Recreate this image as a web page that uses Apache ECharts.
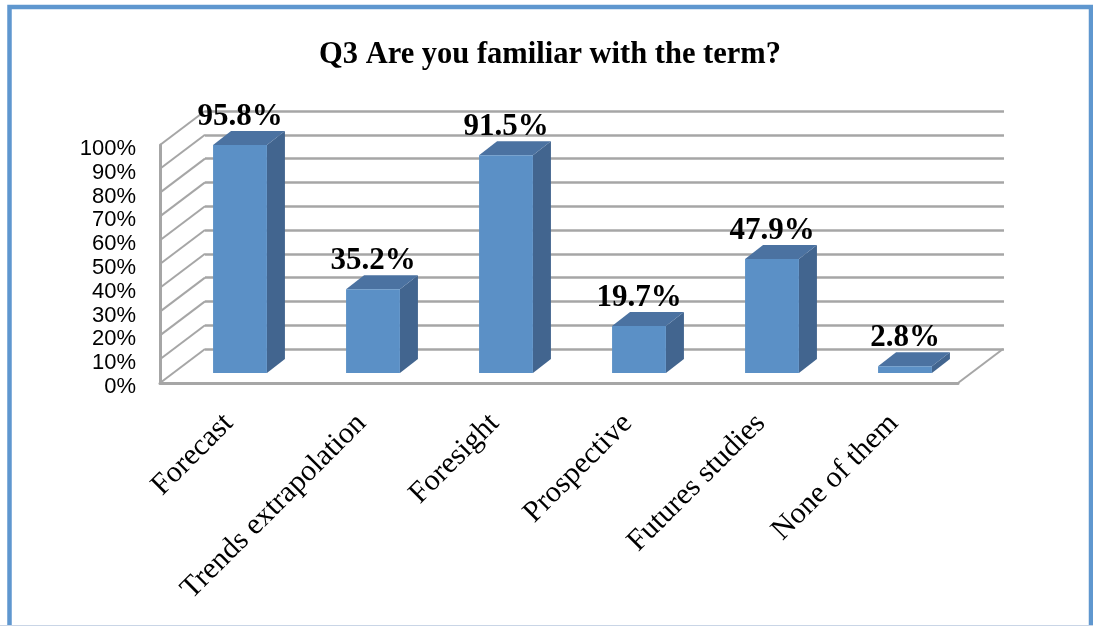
<!DOCTYPE html>
<html><head><meta charset="utf-8">
<style>html,body{margin:0;padding:0;background:#fff}#c{width:1093px;height:626px}</style>
<script src="https://cdn.jsdelivr.net/npm/echarts@6/dist/echarts.min.js"></script>
</head><body><div id="c"></div>
<script>
const categories = ['Forecast','Trends extrapolation','Foresight','Prospective','Futures studies','None of them'];
const values = [95.8,35.2,91.5,19.7,47.9,2.8];
const yTicks = [0,10,20,30,40,50,60,70,80,90,100];
const titleText = 'Q3 Are you familiar with the term?';

const DX = 45, DY = -34;           // wall depth of the 3D box
const BAR_DX = 18, BAR_DY = -14;   // depth of each bar
const SHIFT_X = 13.5, SHIFT_Y = -10; // bar placement on the floor
const GRID = '#a6a6a6';

const chart = echarts.init(document.getElementById('c'), null, {renderer:'canvas'});
chart.setOption({
  animation:false,
  backgroundColor:'#fff',
  title:{text:titleText,left:545,top:35,textAlign:'center',
    textStyle:{fontFamily:'Liberation Serif',fontWeight:'bold',fontSize:30.5,color:'#000'}},
  graphic:[
    {type:'rect',shape:{x:9.5,y:7,width:1081.5,height:630},style:{fill:'none',stroke:'#5f97cf',lineWidth:4.5},z:100},
    {type:'rect',shape:{x:0,y:625,width:1093,height:1},style:{fill:'#c9d5e6'},z:101}
  ],
  grid:[
    {left:160,right:135,top:145,bottom:243},
    {left:205,right:89,top:111,bottom:277}
  ],
  xAxis:[
    {type:'category',gridIndex:0,data:categories,
      axisTick:{show:false},
      axisLine:{lineStyle:{color:GRID,width:3}},
      axisLabel:{interval:0,rotate:45,margin:38,hideOverlap:false,padding:[0,-3,0,0],
        fontFamily:'Liberation Serif',fontSize:30,color:'#000'}},
    {type:'value',gridIndex:1,show:false,min:0,max:1}
  ],
  yAxis:[
    {type:'value',gridIndex:0,min:0,max:100,interval:10,
      axisLine:{show:true,lineStyle:{color:GRID,width:3}},
      axisTick:{show:false},splitLine:{show:false},
      axisLabel:{formatter:'{value}%',margin:24,verticalAlign:'top',lineHeight:8,
        fontFamily:'Liberation Sans',fontSize:22,color:'#000'}},
    {type:'value',gridIndex:1,min:0,max:100,interval:10,
      axisLine:{show:false},axisTick:{show:false},axisLabel:{show:false},
      splitLine:{show:true,lineStyle:{color:GRID,width:2.5}}}
  ],
  series:[
    {type:'custom',xAxisIndex:0,yAxisIndex:0,z:2,silent:true,clip:false,
      data:yTicks.map(v=>[0,v]),
      renderItem(params,api){
        const p = api.coord([0,api.value(1)]);
        const x = params.coordSys.x;
        const children = [{type:'line',
          shape:{x1:x,y1:p[1],x2:x+DX,y2:p[1]+DY},
          style:{stroke:GRID,lineWidth:2}}];
        if(api.value(1)===0){
          const r = x+params.coordSys.width;
          children.push({type:'line',shape:{x1:r,y1:p[1],x2:r+DX,y2:p[1]+DY},
            style:{stroke:GRID,lineWidth:2}});
        }
        return {type:'group',children};
      }},
    {type:'custom',xAxisIndex:0,yAxisIndex:0,z:5,silent:true,clip:false,
      data:values.map((v,i)=>[i,v]),
      renderItem(params,api){
        const top = api.coord([api.value(0),api.value(1)]);
        const base = api.coord([api.value(0),0]);
        const w = api.size([1,0])[0]*0.405;
        const xl = top[0]+SHIFT_X-w/2, xr = xl+w;
        const yt = top[1]+SHIFT_Y, yb = base[1]+SHIFT_Y;
        return {type:'group',children:[
          {type:'polygon',shape:{points:[[xr,yt],[xr+BAR_DX,yt+BAR_DY],[xr+BAR_DX,yb+BAR_DY],[xr,yb]]},
            style:{fill:'#42658f'}},
          {type:'polygon',shape:{points:[[xl,yt],[xl+BAR_DX,yt+BAR_DY],[xr+BAR_DX,yt+BAR_DY],[xr,yt]]},
            style:{fill:'#4b72a1'}},
          {type:'rect',shape:{x:xl,y:yt,width:w,height:yb-yt},style:{fill:'#5b90c6'}},
          {type:'text',z2:50,style:{x:(xl+xr)/2,y:yt-28,text:api.value(1).toFixed(1)+'%',
            align:'center',verticalAlign:'middle',
            font:'bold 31px "Liberation Serif"',fill:'#000'}}
        ]};
      }}
  ]
});
</script></body></html>
